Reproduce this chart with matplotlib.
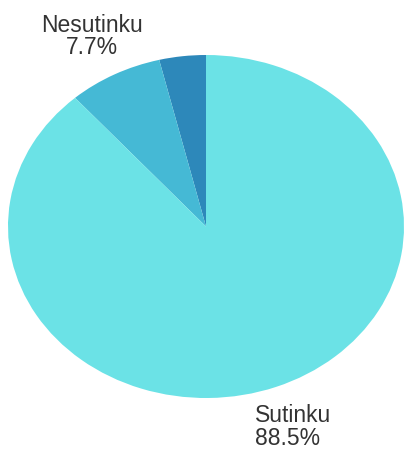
import matplotlib
matplotlib.use('Agg')
matplotlib.rcParams['font.family'] = ['Liberation Sans', 'DejaVu Sans']
from matplotlib import pyplot as plt
import numpy as np

# slices go counterclockwise from the top
labels = ['', 'Nesutinku', 'Sutinku']
shares = [3.8, 7.7, 88.5]
colors = ['#2D88BA', '#45B9D5', '#6BE2E6']

fig = plt.figure(figsize=(4.07, 4.49), dpi=100)
# stretched axes so the pie is drawn as an ellipse like the original
ax = fig.add_axes([8 / 407, 1 - 398 / 449, 396 / 407, 343 / 449])
wedges, texts = ax.pie(shares, colors=colors, startangle=90, counterclock=True,
                       radius=1, wedgeprops={'linewidth': 0})
ax.set_aspect('auto')
ax.set_xlim(-1, 1)
ax.set_ylim(-1, 1)
ax.axis('off')

start = 90.0
for lab, val in zip(labels, shares):
    mid = np.deg2rad(start + val * 3.6 / 2)
    start += val * 3.6
    if not lab:
        continue
    r = 1.25
    ax.text(r * np.cos(mid), r * np.sin(mid), '%s\n%.1f%%' % (lab, val),
            ha='center', va='center', fontsize=16.5, color='#333333',
            multialignment='center' if np.cos(mid) < 0 else 'left',
            linespacing=0.95, clip_on=False)

plt.savefig('out.png', dpi=100)
plt.close('all')
